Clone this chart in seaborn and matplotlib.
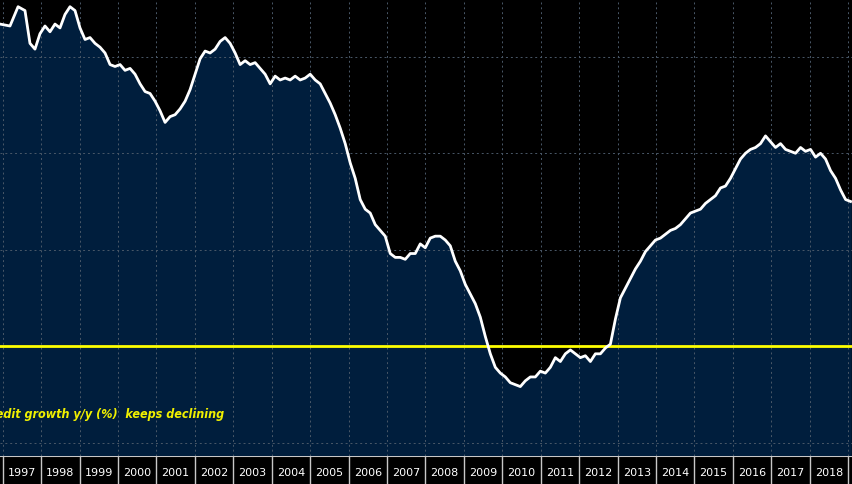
import matplotlib
matplotlib.use("Agg")
import matplotlib.pyplot as plt
import numpy as np
import pandas as pd
import seaborn as sns

# Credit growth y/y (%)
first_dates = [1996.93, 1997.19, 1997.40, 1997.58]
growth = [16.7, 16.6, 17.6, 17.4, 15.7, 15.4, 16.2, 16.6, 16.3, 16.7, 16.5, 17.2, 17.6, 17.4,
          16.5, 15.9, 16.0, 15.7, 15.5, 15.2, 14.6, 14.5, 14.6, 14.3, 14.4, 14.1, 13.6, 13.2,
          13.1, 12.7, 12.2, 11.6, 11.9, 12.0, 12.3, 12.7, 13.3, 14.1, 14.9, 15.3, 15.2, 15.4,
          15.8, 16.0, 15.7, 15.2, 14.6, 14.8, 14.6, 14.7, 14.4, 14.1, 13.6, 14.0, 13.8, 13.9,
          13.8, 14.0, 13.8, 13.9, 14.1, 13.8, 13.6, 13.1, 12.6, 12.0, 11.3, 10.5, 9.5, 8.7,
          7.6, 7.1, 6.9, 6.3, 6.0, 5.7, 4.8, 4.6, 4.6, 4.5, 4.8, 4.8, 5.3, 5.1, 5.6, 5.7, 5.7,
          5.5, 5.2, 4.4, 3.9, 3.2, 2.7, 2.2, 1.5, 0.5, -0.4, -1.1, -1.4, -1.6, -1.9, -2.0,
          -2.1, -1.8, -1.6, -1.6, -1.3, -1.4, -1.1, -0.6, -0.8, -0.4, -0.2, -0.4, -0.6, -0.5,
          -0.8, -0.4, -0.4, -0.1, 0.1, 1.4, 2.5, 3.0, 3.5, 4.0, 4.4, 4.9, 5.2, 5.5, 5.6, 5.8,
          6.0, 6.1, 6.3, 6.6, 6.9, 7.0, 7.1, 7.4, 7.6, 7.8, 8.2, 8.3, 8.7, 9.2, 9.7, 10.0,
          10.2, 10.3, 10.5, 10.9, 10.6, 10.3, 10.5, 10.2, 10.1, 10.0, 10.3, 10.1, 10.2, 9.8,
          10.0, 9.7, 9.1, 8.7, 8.1, 7.6, 7.5]
dates = first_dates + list(1997.71 + 0.1302 * np.arange(len(growth) - len(first_dates)))
years = list(range(1997, 2020))
grid_levels = [-5, 0, 5, 10, 15]
note = "Credit growth y/y (%)  keeps declining"

df = pd.DataFrame({"date": dates, "growth": growth})
xlim = (1996.93, 2019.1)
ylim = (-5.7, 18.0)

fig = plt.figure(figsize=(8.52, 4.85), dpi=100, facecolor="black")
ax = fig.add_axes([0, 28 / 485, 1, 457 / 485])
ax.set_facecolor("black")
ax.fill_between(df.date, df.growth, ylim[0], color="#001e3d", zorder=1)
for y in years:
    ax.axvline(y, color="#4a5868", ls=(0, (2, 3)), lw=0.7, zorder=2)
for g in grid_levels:
    if g == 0:
        ax.axhline(g, color="#ffff00", lw=2, zorder=4)
    else:
        ax.axhline(g, color="#4a5868", ls=(0, (2, 3)), lw=0.7, zorder=2)
sns.lineplot(data=df, x="date", y="growth", ax=ax, color="white", lw=2, zorder=5)
ax.text(1996.45, -3.5, note, color="#f0f000", fontsize=9, fontstyle="italic",
        fontweight="bold", va="center", ha="left", fontstretch="condensed",
        family=["Liberation Sans Narrow", "DejaVu Sans"])
ax.set_xlim(*xlim)
ax.set_ylim(*ylim)
ax.axis("off")

sx = fig.add_axes([0, 0, 1, 28 / 485])
sx.set_facecolor("black")
sx.set_xlim(*xlim)
sx.set_ylim(0, 1)
sx.axhline(1, color="#c8c8c8", lw=1.5)
for y in years:
    sx.axvline(y, color="#c8c8c8", lw=1)
    if y < 2019:
        sx.text(y + 0.5, 0.42, str(y), color="white", fontsize=8, ha="center", va="center",
                family=["Liberation Sans Narrow", "DejaVu Sans"])
sx.axis("off")

fig.savefig("out.png", dpi=100, facecolor="black")
